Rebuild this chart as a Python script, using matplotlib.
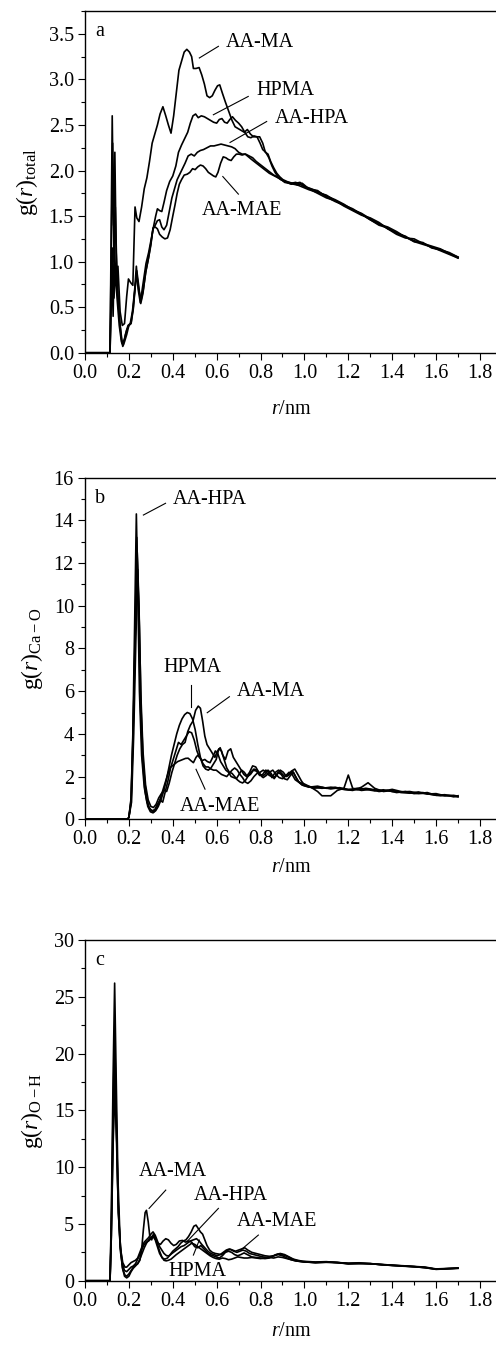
import numpy as np
import matplotlib
matplotlib.use("Agg")
from matplotlib import pyplot as plt
from matplotlib.ticker import MultipleLocator

plt.rcParams['font.family'] = ['Liberation Serif', 'DejaVu Serif']
plt.rcParams['mathtext.fontset'] = 'custom'
plt.rcParams['mathtext.rm'] = 'Liberation Serif'
plt.rcParams['mathtext.it'] = 'Liberation Serif:italic'

# ---- data: (r / nm, g(r)) ----
# panel a: g(r)_total
a_aama = [(0, 0), (0.114, 0), (0.122, 1.0), (0.128, 0.4), (0.134, 1.15), (0.142, 0.75), (0.15, 0.95),
          (0.16, 0.45), (0.17, 0.3), (0.18, 0.32), (0.19, 0.62), (0.198, 0.81), (0.208, 0.77), (0.218, 0.74),
          (0.228, 1.6), (0.236, 1.48), (0.246, 1.44), (0.258, 1.6), (0.27, 1.8), (0.282, 1.92), (0.294, 2.1),
          (0.306, 2.3), (0.318, 2.4), (0.33, 2.5), (0.342, 2.62), (0.355, 2.7), (0.368, 2.6), (0.38, 2.5),
          (0.392, 2.41), (0.404, 2.6), (0.416, 2.85), (0.428, 3.1), (0.44, 3.2), (0.452, 3.3), (0.464, 3.33),
          (0.476, 3.3), (0.486, 3.25), (0.494, 3.12), (0.506, 3.12), (0.52, 3.13), (0.532, 3.05), (0.544, 2.95),
          (0.556, 2.82), (0.568, 2.8), (0.58, 2.82), (0.592, 2.88), (0.604, 2.93), (0.614, 2.94), (0.626, 2.85),
          (0.64, 2.75), (0.655, 2.65), (0.67, 2.55), (0.684, 2.48), (0.698, 2.46), (0.712, 2.44), (0.726, 2.42),
          (0.74, 2.45), (0.754, 2.4), (0.768, 2.37), (0.782, 2.37), (0.796, 2.37), (0.81, 2.3), (0.822, 2.2),
          (0.834, 2.18), (0.846, 2.1), (0.86, 2.03), (0.874, 1.97), (0.888, 1.93), (0.902, 1.9), (0.92, 1.88),
          (0.94, 1.86), (0.96, 1.87), (0.98, 1.85), (1.0, 1.82), (1.02, 1.81), (1.06, 1.77), (1.1, 1.72),
          (1.14, 1.68), (1.18, 1.63), (1.22, 1.57), (1.26, 1.53), (1.3, 1.47), (1.34, 1.42), (1.38, 1.36),
          (1.42, 1.32), (1.46, 1.27), (1.5, 1.23), (1.54, 1.2), (1.58, 1.17), (1.62, 1.14), (1.66, 1.09), (1.7, 1.04)]
a_hpma = [(0, 0), (0.114, 0), (0.12, 0.6), (0.126, 1.15), (0.132, 0.6), (0.138, 0.9), (0.146, 0.6),
          (0.156, 0.3), (0.166, 0.12), (0.174, 0.08), (0.184, 0.2), (0.196, 0.3), (0.206, 0.32), (0.216, 0.45),
          (0.226, 0.68), (0.234, 0.95), (0.242, 0.7), (0.252, 0.55), (0.264, 0.75), (0.278, 0.98), (0.29, 1.1),
          (0.302, 1.25), (0.312, 1.38), (0.322, 1.5), (0.33, 1.58), (0.34, 1.56), (0.35, 1.55), (0.36, 1.65),
          (0.372, 1.78), (0.386, 1.88), (0.4, 1.94), (0.414, 2.05), (0.426, 2.2), (0.44, 2.28), (0.454, 2.35),
          (0.468, 2.42), (0.48, 2.52), (0.492, 2.6), (0.504, 2.62), (0.516, 2.58), (0.53, 2.6), (0.544, 2.59),
          (0.558, 2.57), (0.572, 2.55), (0.586, 2.53), (0.6, 2.52), (0.612, 2.56), (0.624, 2.57), (0.636, 2.53),
          (0.648, 2.52), (0.66, 2.56), (0.672, 2.59), (0.686, 2.55), (0.7, 2.52), (0.714, 2.48), (0.728, 2.42),
          (0.742, 2.37), (0.756, 2.36), (0.77, 2.38), (0.784, 2.37), (0.798, 2.3), (0.81, 2.23), (0.824, 2.2),
          (0.838, 2.14), (0.852, 2.05), (0.866, 1.98), (0.88, 1.93), (0.895, 1.9), (0.91, 1.87), (0.93, 1.86),
          (0.95, 1.85), (0.97, 1.84), (0.99, 1.86), (1.02, 1.8), (1.06, 1.78), (1.1, 1.71), (1.14, 1.66),
          (1.18, 1.62), (1.22, 1.58), (1.26, 1.52), (1.3, 1.46), (1.34, 1.4), (1.38, 1.37), (1.42, 1.31),
          (1.46, 1.28), (1.5, 1.22), (1.54, 1.19), (1.58, 1.16), (1.62, 1.13), (1.66, 1.1), (1.7, 1.05)]
a_aahpa = [(0, 0), (0.114, 0), (0.12, 1.2), (0.126, 2.3), (0.132, 1.0), (0.138, 1.6), (0.146, 0.8),
           (0.156, 0.4), (0.166, 0.15), (0.172, 0.07), (0.18, 0.12), (0.19, 0.2), (0.2, 0.3), (0.21, 0.33),
           (0.22, 0.5), (0.228, 0.72), (0.236, 0.85), (0.246, 0.68), (0.256, 0.58), (0.266, 0.7), (0.278, 0.9),
           (0.29, 1.05), (0.3, 1.2), (0.31, 1.36), (0.32, 1.4), (0.33, 1.45), (0.34, 1.46), (0.35, 1.38),
           (0.36, 1.35), (0.372, 1.4), (0.384, 1.55), (0.396, 1.7), (0.408, 1.8), (0.42, 1.9), (0.432, 1.96),
           (0.444, 2.02), (0.456, 2.08), (0.47, 2.16), (0.484, 2.18), (0.498, 2.16), (0.512, 2.2), (0.526, 2.22),
           (0.54, 2.23), (0.556, 2.25), (0.572, 2.27), (0.588, 2.27), (0.604, 2.28), (0.62, 2.29), (0.636, 2.28),
           (0.652, 2.27), (0.668, 2.26), (0.684, 2.24), (0.7, 2.2), (0.716, 2.18), (0.732, 2.18), (0.748, 2.16),
           (0.764, 2.14), (0.78, 2.1), (0.796, 2.07), (0.812, 2.04), (0.828, 2.01), (0.844, 1.98), (0.86, 1.95),
           (0.876, 1.93), (0.892, 1.9), (0.91, 1.88), (0.93, 1.87), (0.95, 1.86), (0.97, 1.84), (0.99, 1.82),
           (1.02, 1.79), (1.06, 1.76), (1.1, 1.73), (1.14, 1.67), (1.18, 1.61), (1.22, 1.56), (1.26, 1.51),
           (1.3, 1.48), (1.34, 1.43), (1.38, 1.36), (1.42, 1.3), (1.46, 1.26), (1.5, 1.25), (1.54, 1.2),
           (1.58, 1.16), (1.62, 1.12), (1.66, 1.08), (1.7, 1.04)]
a_aamae = [(0, 0), (0.114, 0), (0.118, 1.0), (0.124, 2.6), (0.13, 1.4), (0.136, 2.2), (0.142, 1.1),
           (0.15, 0.6), (0.16, 0.3), (0.17, 0.1), (0.18, 0.15), (0.19, 0.25), (0.2, 0.3), (0.21, 0.32),
           (0.22, 0.48), (0.228, 0.7), (0.236, 0.9), (0.244, 0.75), (0.254, 0.54), (0.264, 0.65), (0.276, 0.88),
           (0.288, 1.02), (0.3, 1.18), (0.31, 1.37), (0.32, 1.38), (0.33, 1.36), (0.34, 1.3), (0.352, 1.27),
           (0.364, 1.25), (0.376, 1.26), (0.388, 1.35), (0.4, 1.5), (0.41, 1.62), (0.42, 1.75), (0.43, 1.85),
           (0.44, 1.9), (0.452, 1.95), (0.466, 1.96), (0.478, 1.98), (0.49, 2.02), (0.502, 2.01), (0.514, 2.04),
           (0.526, 2.06), (0.538, 2.05), (0.55, 2.02), (0.562, 1.98), (0.574, 1.96), (0.586, 1.94), (0.596, 1.93),
           (0.606, 1.98), (0.618, 2.08), (0.63, 2.15), (0.642, 2.14), (0.654, 2.12), (0.666, 2.11), (0.678, 2.15),
           (0.69, 2.18), (0.702, 2.18), (0.716, 2.17), (0.73, 2.18), (0.745, 2.15), (0.76, 2.12), (0.776, 2.09),
           (0.792, 2.06), (0.808, 2.03), (0.824, 2.0), (0.84, 1.97), (0.856, 1.95), (0.872, 1.93), (0.888, 1.91),
           (0.904, 1.89), (0.92, 1.87), (0.94, 1.85), (0.96, 1.86), (0.98, 1.87), (1.0, 1.83), (1.02, 1.8),
           (1.06, 1.75), (1.1, 1.7), (1.14, 1.67), (1.18, 1.62), (1.22, 1.57), (1.26, 1.52), (1.3, 1.46),
           (1.34, 1.41), (1.38, 1.38), (1.42, 1.33), (1.46, 1.27), (1.5, 1.22), (1.54, 1.21), (1.58, 1.15),
           (1.62, 1.13), (1.66, 1.09), (1.7, 1.05)]

# panel b: g(r)_Ca-O
b_aahpa = [(0, 0), (0.195, 0), (0.2, 0.1), (0.21, 1.0), (0.218, 4.0), (0.226, 9.0), (0.234, 14.3), (0.24, 11.0),
           (0.248, 6.0), (0.258, 3.0), (0.27, 1.5), (0.282, 0.8), (0.294, 0.5), (0.306, 0.4), (0.318, 0.45),
           (0.33, 0.7), (0.342, 0.9), (0.354, 0.8), (0.366, 1.3), (0.378, 1.8), (0.39, 2.4), (0.402, 2.8),
           (0.414, 3.2), (0.426, 3.6), (0.438, 3.5), (0.45, 3.7), (0.462, 3.9), (0.474, 4.1), (0.486, 4.05),
           (0.498, 3.7), (0.51, 3.2), (0.522, 2.9), (0.534, 2.75), (0.546, 2.8), (0.558, 2.7), (0.57, 2.65),
           (0.582, 2.9), (0.594, 3.2), (0.606, 3.05), (0.618, 2.7), (0.63, 2.5), (0.642, 2.3), (0.654, 2.2),
           (0.666, 2.0), (0.678, 1.95), (0.69, 1.9), (0.702, 2.1), (0.714, 2.3), (0.726, 2.2), (0.74, 2.0),
           (0.754, 2.1), (0.768, 2.3), (0.782, 2.25), (0.796, 2.05), (0.81, 2.1), (0.824, 2.3), (0.838, 2.2),
           (0.852, 1.95), (0.866, 2.0), (0.88, 2.2), (0.894, 2.1), (0.908, 1.9), (0.922, 1.85), (0.936, 2.05),
           (0.95, 2.2), (0.964, 1.9), (0.978, 1.7), (0.992, 1.6), (1.01, 1.55), (1.04, 1.5), (1.08, 1.45),
           (1.12, 1.5), (1.16, 1.42), (1.2, 1.38), (1.24, 1.45), (1.28, 1.4), (1.32, 1.33), (1.36, 1.38),
           (1.4, 1.3), (1.44, 1.28), (1.48, 1.3), (1.52, 1.22), (1.56, 1.2), (1.6, 1.15), (1.64, 1.12),
           (1.68, 1.08), (1.7, 1.06)]
b_hpma = [(0, 0), (0.195, 0), (0.2, 0.1), (0.21, 0.8), (0.218, 3.5), (0.228, 8.5), (0.236, 13.2), (0.244, 10.0),
          (0.252, 5.5), (0.262, 2.8), (0.274, 1.3), (0.286, 0.6), (0.298, 0.35), (0.31, 0.3), (0.322, 0.4),
          (0.334, 0.6), (0.346, 0.9), (0.358, 1.3), (0.37, 1.8), (0.382, 2.4), (0.394, 3.0), (0.406, 3.5),
          (0.418, 4.0), (0.43, 4.4), (0.442, 4.7), (0.454, 4.9), (0.466, 5.0), (0.478, 4.95), (0.49, 4.7),
          (0.502, 4.2), (0.514, 3.5), (0.526, 2.9), (0.538, 2.5), (0.55, 2.35), (0.562, 2.3), (0.574, 2.4),
          (0.586, 2.6), (0.598, 2.8), (0.61, 3.3), (0.622, 3.2), (0.634, 2.8), (0.646, 2.4), (0.658, 2.2),
          (0.67, 2.15), (0.682, 2.0), (0.694, 1.85), (0.706, 1.75), (0.718, 1.7), (0.73, 1.8), (0.742, 2.0),
          (0.756, 2.2), (0.77, 2.35), (0.784, 2.3), (0.798, 2.1), (0.812, 1.95), (0.826, 2.05), (0.84, 2.2),
          (0.856, 2.3), (0.87, 2.1), (0.885, 1.95), (0.9, 1.9), (0.916, 2.05), (0.93, 2.2), (0.944, 2.1),
          (0.958, 1.85), (0.972, 1.75), (0.986, 1.7), (1.0, 1.65), (1.03, 1.5), (1.06, 1.3), (1.08, 1.1),
          (1.12, 1.1), (1.15, 1.35), (1.18, 1.45), (1.2, 2.07), (1.22, 1.45), (1.26, 1.35), (1.3, 1.4),
          (1.34, 1.3), (1.38, 1.35), (1.42, 1.25), (1.46, 1.3), (1.5, 1.2), (1.54, 1.25), (1.58, 1.15),
          (1.62, 1.1), (1.66, 1.12), (1.7, 1.05)]
b_aama = [(0, 0), (0.195, 0), (0.2, 0.1), (0.21, 0.9), (0.22, 4.5), (0.23, 9.0), (0.238, 12.5), (0.246, 10.0),
          (0.254, 6.0), (0.264, 3.2), (0.276, 1.6), (0.288, 0.9), (0.3, 0.6), (0.312, 0.55), (0.324, 0.7),
          (0.336, 1.0), (0.348, 1.2), (0.36, 1.35), (0.372, 1.3), (0.384, 1.7), (0.396, 2.2), (0.408, 2.6),
          (0.42, 3.0), (0.432, 3.3), (0.444, 3.5), (0.456, 3.6), (0.468, 4.1), (0.48, 4.4), (0.492, 4.6),
          (0.504, 5.1), (0.516, 5.3), (0.526, 5.2), (0.536, 4.6), (0.546, 3.9), (0.556, 3.5), (0.568, 3.3),
          (0.58, 3.1), (0.592, 2.9), (0.604, 3.2), (0.616, 3.35), (0.628, 3.0), (0.64, 2.8), (0.652, 3.2),
          (0.664, 3.3), (0.676, 2.9), (0.688, 2.7), (0.7, 2.5), (0.712, 2.3), (0.724, 2.1), (0.736, 2.0),
          (0.75, 2.2), (0.764, 2.5), (0.778, 2.45), (0.792, 2.2), (0.806, 2.0), (0.82, 2.1), (0.834, 2.3),
          (0.848, 2.15), (0.862, 1.9), (0.876, 2.1), (0.89, 2.3), (0.904, 2.2), (0.918, 2.0), (0.932, 2.1),
          (0.946, 2.25), (0.96, 2.0), (0.974, 1.75), (0.99, 1.6), (1.02, 1.5), (1.06, 1.55), (1.1, 1.45),
          (1.14, 1.5), (1.18, 1.4), (1.22, 1.35), (1.26, 1.5), (1.29, 1.71), (1.32, 1.45), (1.36, 1.3),
          (1.4, 1.35), (1.44, 1.25), (1.48, 1.22), (1.52, 1.28), (1.56, 1.18), (1.6, 1.2), (1.64, 1.1),
          (1.68, 1.12), (1.7, 1.08)]
b_aamae = [(0, 0), (0.195, 0), (0.2, 0.1), (0.212, 0.8), (0.222, 4.0), (0.232, 8.5), (0.24, 11.7), (0.248, 9.0),
           (0.256, 5.0), (0.266, 2.5), (0.278, 1.2), (0.29, 0.6), (0.302, 0.4), (0.314, 0.35), (0.326, 0.5),
           (0.338, 0.8), (0.35, 1.2), (0.362, 1.6), (0.374, 2.0), (0.386, 2.4), (0.398, 2.5), (0.41, 2.6),
           (0.422, 2.7), (0.434, 2.75), (0.446, 2.8), (0.458, 2.85), (0.47, 2.86), (0.482, 2.75), (0.494, 2.65),
           (0.506, 2.9), (0.514, 3.0), (0.526, 2.85), (0.538, 2.6), (0.55, 2.45), (0.562, 2.45), (0.574, 2.35),
           (0.586, 2.3), (0.598, 2.3), (0.61, 2.2), (0.622, 2.1), (0.634, 2.05), (0.646, 2.0), (0.658, 2.15),
           (0.67, 2.3), (0.682, 2.4), (0.694, 2.3), (0.706, 2.1), (0.718, 1.95), (0.73, 1.75), (0.742, 1.68),
           (0.756, 1.8), (0.77, 2.0), (0.784, 2.15), (0.798, 2.2), (0.812, 2.3), (0.826, 2.2), (0.84, 2.05),
           (0.854, 2.0), (0.868, 2.2), (0.882, 2.3), (0.896, 2.15), (0.91, 2.0), (0.924, 2.05), (0.94, 2.25),
           (0.956, 2.35), (0.97, 2.1), (0.986, 1.8), (1.0, 1.6), (1.04, 1.45), (1.08, 1.5), (1.12, 1.42),
           (1.16, 1.48), (1.2, 1.4), (1.24, 1.38), (1.28, 1.45), (1.32, 1.38), (1.36, 1.32), (1.4, 1.4),
           (1.44, 1.3), (1.48, 1.25), (1.52, 1.2), (1.56, 1.25), (1.6, 1.12), (1.64, 1.15), (1.68, 1.05),
           (1.7, 1.1)]

# panel c: g(r)_O-H
c_aama = [(0, 0), (0.114, 0), (0.12, 4), (0.128, 13), (0.136, 18.2), (0.144, 13), (0.152, 6), (0.162, 2.5),
          (0.172, 1.0), (0.182, 0.5), (0.19, 0.4), (0.2, 0.6), (0.21, 0.9), (0.22, 1.2), (0.23, 1.4),
          (0.24, 1.5), (0.25, 1.8), (0.258, 2.7), (0.266, 4.5), (0.274, 6.0), (0.28, 6.2), (0.288, 5.2),
          (0.296, 3.8), (0.304, 3.6), (0.312, 4.1), (0.32, 3.8), (0.33, 3.2), (0.34, 2.6), (0.35, 2.1),
          (0.36, 1.8), (0.37, 1.75), (0.38, 1.8), (0.392, 1.9), (0.404, 2.1), (0.416, 2.3), (0.43, 2.5),
          (0.444, 2.7), (0.458, 2.9), (0.472, 3.1), (0.486, 3.3), (0.5, 3.2), (0.514, 3.0), (0.528, 2.8),
          (0.542, 2.6), (0.556, 2.4), (0.57, 2.2), (0.584, 2.05), (0.598, 1.95), (0.612, 1.9), (0.626, 2.0),
          (0.64, 1.95), (0.654, 1.85), (0.668, 1.9), (0.682, 2.0), (0.696, 2.1), (0.71, 2.05), (0.725, 2.0),
          (0.74, 2.0), (0.76, 2.05), (0.78, 2.0), (0.8, 1.95), (0.82, 2.0), (0.84, 2.05), (0.86, 2.0),
          (0.88, 2.1), (0.9, 2.05), (0.92, 1.95), (0.94, 1.85), (0.96, 1.75), (0.98, 1.7), (1.0, 1.65),
          (1.05, 1.6), (1.1, 1.62), (1.15, 1.58), (1.2, 1.5), (1.25, 1.55), (1.3, 1.5), (1.35, 1.42),
          (1.4, 1.35), (1.45, 1.3), (1.5, 1.25), (1.55, 1.15), (1.6, 1.02), (1.65, 1.06), (1.7, 1.1)]
c_hpma = [(0, 0), (0.114, 0), (0.12, 6), (0.128, 18), (0.135, 26.2), (0.142, 18), (0.15, 9), (0.16, 3.5),
          (0.17, 1.2), (0.18, 0.4), (0.19, 0.25), (0.2, 0.4), (0.21, 0.8), (0.22, 1.1), (0.23, 1.3),
          (0.24, 1.5), (0.25, 1.9), (0.26, 2.4), (0.27, 2.9), (0.28, 3.3), (0.29, 3.6), (0.3, 3.8),
          (0.31, 4.0), (0.32, 3.7), (0.332, 3.3), (0.344, 3.2), (0.356, 3.5), (0.368, 3.7), (0.38, 3.6),
          (0.392, 3.3), (0.404, 3.1), (0.416, 3.2), (0.43, 3.5), (0.444, 3.55), (0.458, 3.4), (0.472, 3.5),
          (0.486, 3.4), (0.5, 3.0), (0.514, 2.9), (0.528, 3.1), (0.542, 2.8), (0.556, 2.5), (0.57, 2.3),
          (0.584, 2.2), (0.598, 2.1), (0.612, 2.0), (0.626, 2.2), (0.64, 2.5), (0.654, 2.6), (0.668, 2.5),
          (0.682, 2.3), (0.696, 2.2), (0.71, 2.3), (0.725, 2.45), (0.74, 2.3), (0.76, 2.1), (0.78, 2.05),
          (0.8, 2.0), (0.82, 1.95), (0.84, 2.0), (0.86, 2.2), (0.88, 2.3), (0.9, 2.2), (0.92, 2.0),
          (0.94, 1.85), (0.96, 1.75), (0.98, 1.7), (1.0, 1.65), (1.05, 1.62), (1.1, 1.66), (1.15, 1.6),
          (1.2, 1.52), (1.25, 1.5), (1.3, 1.52), (1.35, 1.4), (1.4, 1.38), (1.45, 1.3), (1.5, 1.22),
          (1.55, 1.18), (1.6, 1.0), (1.65, 1.05), (1.7, 1.12)]
c_aahpa = [(0, 0), (0.114, 0), (0.12, 5), (0.128, 15), (0.135, 22), (0.142, 15), (0.15, 7.5), (0.16, 3),
           (0.17, 1.5), (0.18, 0.9), (0.19, 0.8), (0.2, 1.0), (0.21, 1.2), (0.22, 1.3), (0.23, 1.5),
           (0.24, 1.9), (0.25, 2.3), (0.26, 2.8), (0.27, 3.2), (0.28, 3.4), (0.29, 3.5), (0.3, 3.7),
           (0.31, 3.9), (0.32, 3.6), (0.33, 3.0), (0.34, 2.4), (0.352, 2.0), (0.364, 1.9), (0.376, 2.0),
           (0.388, 2.3), (0.4, 2.6), (0.412, 2.8), (0.424, 3.0), (0.436, 3.3), (0.448, 3.5), (0.46, 3.6),
           (0.472, 3.9), (0.484, 4.3), (0.496, 4.8), (0.506, 4.9), (0.516, 4.6), (0.526, 4.3), (0.536, 4.1),
           (0.546, 3.6), (0.556, 3.1), (0.568, 2.7), (0.58, 2.5), (0.594, 2.4), (0.608, 2.35), (0.622, 2.3),
           (0.636, 2.5), (0.65, 2.7), (0.664, 2.75), (0.678, 2.6), (0.692, 2.5), (0.706, 2.6), (0.72, 2.7),
           (0.735, 2.6), (0.75, 2.4), (0.77, 2.3), (0.79, 2.2), (0.81, 2.1), (0.83, 2.05), (0.85, 2.1),
           (0.87, 2.3), (0.89, 2.4), (0.91, 2.3), (0.93, 2.1), (0.95, 1.9), (0.97, 1.8), (0.99, 1.72),
           (1.05, 1.65), (1.1, 1.68), (1.15, 1.6), (1.2, 1.55), (1.25, 1.58), (1.3, 1.48), (1.35, 1.45),
           (1.4, 1.36), (1.45, 1.32), (1.5, 1.26), (1.55, 1.2), (1.6, 1.04), (1.65, 1.08), (1.7, 1.1)]
c_aamae = [(0, 0), (0.114, 0), (0.12, 4), (0.128, 12), (0.136, 17), (0.144, 12), (0.152, 6), (0.162, 2.8),
           (0.172, 1.6), (0.182, 1.2), (0.19, 1.2), (0.2, 1.4), (0.21, 1.6), (0.22, 1.7), (0.23, 1.8),
           (0.24, 2.0), (0.25, 2.5), (0.26, 3.0), (0.27, 3.4), (0.28, 3.6), (0.29, 3.8), (0.3, 4.1),
           (0.31, 4.3), (0.32, 4.0), (0.33, 3.5), (0.34, 3.0), (0.35, 2.7), (0.36, 2.4), (0.372, 2.2),
           (0.384, 2.2), (0.396, 2.4), (0.41, 2.6), (0.424, 2.8), (0.438, 3.0), (0.452, 3.1), (0.466, 3.3),
           (0.48, 3.5), (0.494, 3.6), (0.508, 3.7), (0.52, 3.5), (0.532, 3.2), (0.546, 2.9), (0.56, 2.6),
           (0.574, 2.4), (0.588, 2.3), (0.602, 2.2), (0.616, 2.3), (0.63, 2.5), (0.644, 2.7), (0.658, 2.8),
           (0.672, 2.7), (0.686, 2.6), (0.7, 2.7), (0.714, 2.8), (0.728, 2.9), (0.742, 2.7), (0.76, 2.5),
           (0.78, 2.4), (0.8, 2.3), (0.82, 2.2), (0.84, 2.15), (0.86, 2.2), (0.88, 2.35), (0.9, 2.3),
           (0.92, 2.15), (0.94, 1.95), (0.96, 1.8), (0.98, 1.72), (1.0, 1.68), (1.05, 1.58), (1.1, 1.64),
           (1.15, 1.62), (1.2, 1.48), (1.25, 1.52), (1.3, 1.5), (1.35, 1.42), (1.4, 1.34), (1.45, 1.28),
           (1.5, 1.24), (1.55, 1.14), (1.6, 1.02), (1.65, 1.06), (1.7, 1.1)]

# annotation layout: (label, text xy, arrow tail xy, arrow head xy) in data units
notes_a = [('AA-MA', (0.643, 3.41), (0.608, 3.363), (0.521, 3.235)),
           ('HPMA', (0.783, 2.88), (0.744, 2.813), (0.585, 2.612)),
           ('AA-HPA', (0.866, 2.576), (0.828, 2.538), (0.661, 2.308)),
           ('AA-MAE', (0.532, 1.56), (0.699, 1.741), (0.628, 1.934))]
notes_b = [('AA-HPA', (0.40, 14.99), (0.367, 14.8), (0.266, 14.25)),
           ('HPMA', (0.357, 7.12), (0.482, 6.29), (0.482, 5.27)),
           ('AA-MA', (0.691, 5.98), (0.658, 5.74), (0.557, 4.99)),
           ('AA-MAE', (0.433, 0.62), (0.547, 1.41), (0.506, 2.34))]
notes_c = [('AA-MA', (0.243, 9.6), (0.368, 7.98), (0.292, 6.37)),
           ('AA-HPA', (0.497, 7.54), (0.608, 6.37), (0.464, 3.43)),
           ('AA-MAE', (0.694, 5.19), (0.79, 4.02), (0.71, 2.70)),
           ('HPMA', (0.38, 0.79), (0.494, 2.26), (0.521, 3.58))]

panels = [
    ('a', [a_aama, a_hpma, a_aahpa, a_aamae], notes_a, (0, 3.75), 0.5, 0.25, '{:.1f}',
     r'$\mathrm{g}(\mathit{r})_{\mathrm{total}}$', [0.1714, 0.7385, 0.8316, 0.2533], 12),
    ('b', [b_aahpa, b_hpma, b_aama, b_aamae], notes_b, (0, 16), 2, 1, '{:.0f}',
     r'$\mathrm{g}(\mathit{r})_{\mathrm{Ca-O}}$', [0.1714, 0.3927, 0.8316, 0.2532], 6),
    ('c', [c_aama, c_hpma, c_aahpa, c_aamae], notes_c, (0, 30), 5, 2.5, '{:.0f}',
     r'$\mathrm{g}(\mathit{r})_{\mathrm{O-H}}$', [0.1714, 0.0506, 0.8316, 0.2526], 8),
]

fig = plt.figure(figsize=(4.96, 13.49), dpi=100)
fs = 14.5

for letter, series, notes, ylim, ymaj, ymin, fmt, ylab, pos, xpad in panels:
    ax = fig.add_axes(pos)
    for s in series:
        arr = np.array(s)
        ax.plot(arr[:, 0], arr[:, 1], color='black', lw=1.2)
    ax.set_xlim(0, 1.88)
    ax.set_ylim(*ylim)
    ax.xaxis.set_minor_locator(MultipleLocator(0.1))
    ax.yaxis.set_minor_locator(MultipleLocator(ymin))
    xt = np.arange(0, 1.81, 0.2)
    ax.set_xticks(xt)
    ax.set_xticklabels(['{:.1f}'.format(v) for v in xt])
    yt = np.arange(ylim[0], ylim[1] + 1e-9, ymaj)
    ax.set_yticks(yt)
    ax.set_yticklabels([fmt.format(v) for v in yt])
    ax.tick_params(which='major', direction='out', length=5, width=0.8, labelsize=fs, pad=3)
    ax.tick_params(which='minor', direction='out', length=2.8, width=0.8)
    ax.spines['right'].set_visible(False)
    for sp in ['left', 'bottom', 'top']:
        ax.spines[sp].set_linewidth(1.0)
    ax.set_xlabel(r'$\mathit{r}$/nm', fontsize=fs, labelpad=xpad)
    ax.set_ylabel(ylab, fontsize=17, labelpad=6)
    ax.text(0.025, 0.94, letter, transform=ax.transAxes, fontsize=fs, va='center', ha='left')
    for label, txy, p0, p1 in notes:
        ax.text(txy[0], txy[1], label, fontsize=fs, ha='left', va='center')
        ax.plot([p0[0], p1[0]], [p0[1], p1[1]], color='black', lw=0.8)

fig.savefig('out.png', dpi=100)
